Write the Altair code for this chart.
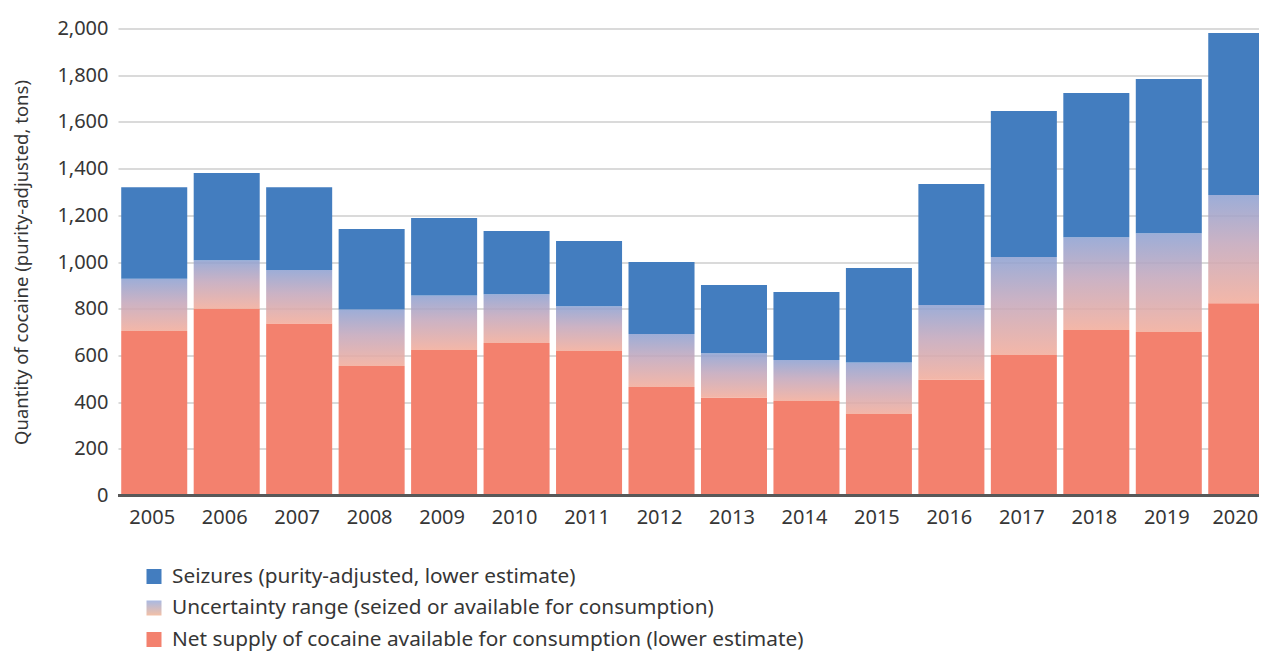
import altair as alt
import pandas as pd

years = [str(y) for y in range(2005, 2021)]
net_supply = [704, 799, 737, 555, 623, 653, 619, 465, 419, 405, 349, 496, 602, 709, 700, 823]
uncertainty_top = [928, 1008, 966, 797, 856, 862, 810, 692, 609, 580, 570, 816, 1021, 1106, 1123, 1287]
total = [1320, 1381, 1320, 1141, 1188, 1133, 1090, 1000, 901, 872, 974, 1334, 1647, 1724, 1784, 1981]

legend_labels = [
    "Seizures (purity-adjusted, lower estimate)",
    "Uncertainty range (seized or available for consumption)",
    "Net supply of cocaine available for consumption (lower estimate)",
]
legend_keys = ["seizures", "uncertainty", "net"]

BLUE = "#437dbf"
SALMON = "#f3816e"
FONT = "Noto Sans"
TEXT = "#363636"

df = pd.DataFrame({
    "year": years,
    "net": net_supply,
    "unc": uncertainty_top,
    "total": total,
})

# band scale running past the visible plot (the last bar is cut at the right edge)
band = alt.Scale(paddingInner=0.089, paddingOuter=0.0445, range=[0, 1159.5])
x_enc = alt.X(
    "year:N",
    scale=band,
    axis=alt.Axis(
        title=None, labelAngle=0, labelFontSize=20, labelColor=TEXT, labelFont=FONT,
        ticks=False, domain=False, labelPadding=12,
        labelOffset={"condition": {"test": "datum.value === '2020'", "value": -6}, "value": -2},
    ),
)
y_scale = alt.Scale(domain=[0, 2000], nice=False)
y_axis = alt.Axis(
    values=list(range(0, 2001, 200)), format=",.0f",
    title="Quantity of cocaine (purity-adjusted, tons)",
    titleFontSize=18.5, titleFontWeight="normal", titleColor=TEXT, titleFont=FONT, titlePadding=25,
    labelFontSize=20, labelColor=TEXT, labelFont=FONT, labelPadding=10,
    domain=False, ticks=False, grid=True, gridColor="#dadada", gridWidth=2,
)

base = alt.Chart(df)
net_bar = base.mark_bar(color=SALMON, clip=True).encode(
    x=x_enc, y=alt.Y("net:Q", scale=y_scale, axis=y_axis), y2=alt.datum(0)
)
unc_grad = alt.LinearGradient(
    gradient="linear",
    stops=[
        alt.GradientStop(color="#8fa2d2", offset=0),
        alt.GradientStop(color="#c4a8bc", offset=0.45),
        alt.GradientStop(color="#f2ad9c", offset=1),
    ],
    x1=0, x2=0, y1=0, y2=1,
)
unc_bar = base.mark_bar(color=unc_grad, opacity=0.88, clip=True).encode(
    x=x_enc, y=alt.Y("unc:Q"), y2="net:Q"
)
seiz_bar = base.mark_bar(color=BLUE, clip=True).encode(
    x=x_enc, y=alt.Y("total:Q"), y2="unc:Q"
)
baseline = base.mark_rule(color="#595959", strokeWidth=2).encode(y=alt.datum(0))
main = alt.layer(net_bar, unc_bar, seiz_bar, baseline)

# legend drawn below the plot through its own point scale
leg_df = pd.DataFrame({"label": legend_labels, "key": legend_keys})
leg_y = alt.Y(
    "label:N", sort=legend_labels, axis=None,
    scale=alt.Scale(type="point", range=[548, 611], padding=0),
)
leg_base = alt.Chart(leg_df).encode(y=leg_y)
leg_squares = leg_base.transform_filter(alt.datum.key != "uncertainty").mark_square(
    size=225, opacity=1, filled=True
).encode(
    x=alt.value(36),
    color=alt.Color("key:N", scale=alt.Scale(domain=["seizures", "net"], range=[BLUE, SALMON]), legend=None),
)
leg_grad = alt.LinearGradient(
    gradient="linear",
    stops=[
        alt.GradientStop(color="#a9b9e2", offset=0),
        alt.GradientStop(color="#f3c0a6", offset=1),
    ],
    x1=0, x2=0, y1=0, y2=1,
)
leg_unc = leg_base.transform_filter(alt.datum.key == "uncertainty").mark_square(
    size=225, opacity=1, filled=True, color=leg_grad
).encode(x=alt.value(36))
leg_text = leg_base.mark_text(align="left", baseline="middle", fontSize=20.8, color=TEXT, font=FONT).encode(
    x=alt.value(54), text="label:N"
)
legend = alt.layer(leg_squares, leg_unc, leg_text)

chart = alt.layer(main, legend).resolve_scale(y="independent").properties(
    width=1141,
    height=467,
    autosize=alt.AutoSizeParams(type="none"),
    padding={"left": 110, "top": 20.5, "right": 0, "bottom": 156.5},
).configure(font=FONT).configure_view(strokeWidth=0)

chart.save("out.html", embed_options={"renderer": "svg", "actions": False})
